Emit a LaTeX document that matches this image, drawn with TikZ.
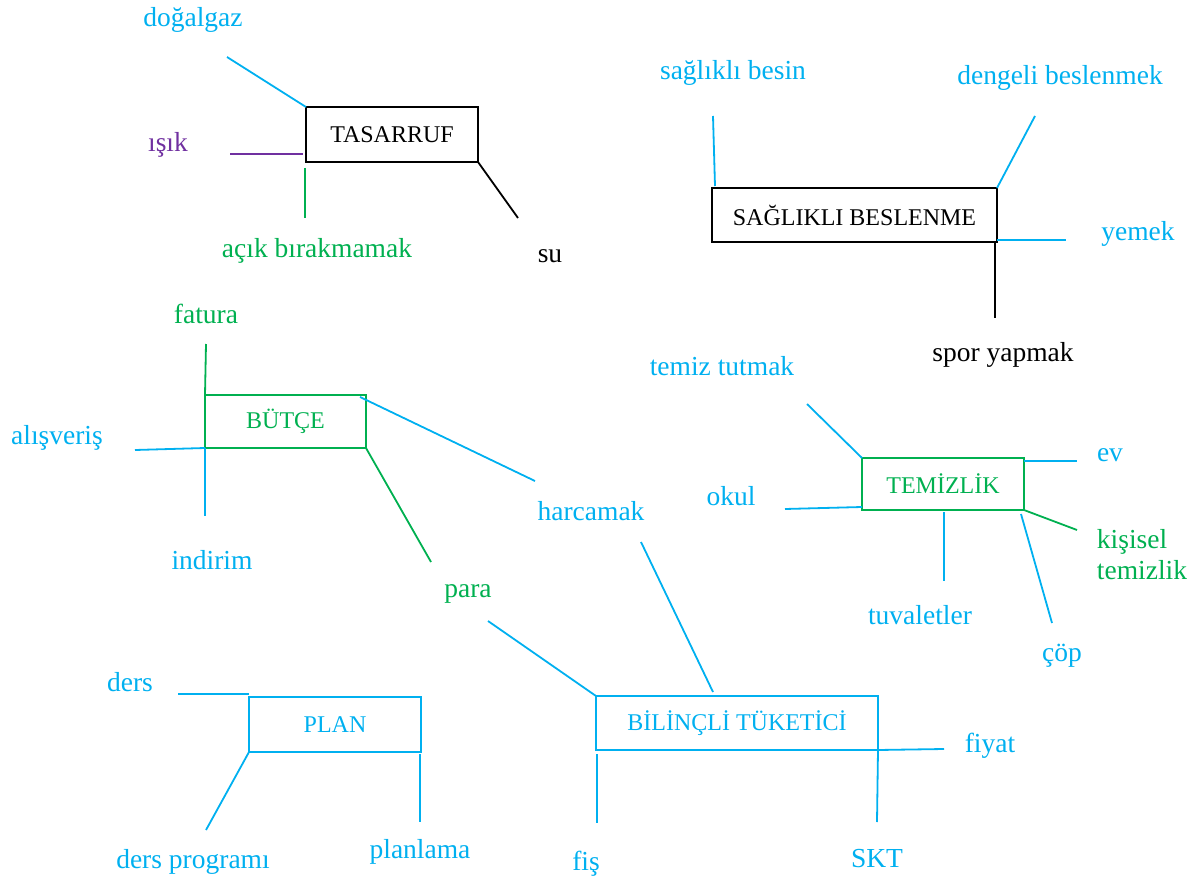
\documentclass[tikz,border=0pt]{standalone}
\usepackage{fontspec}
\setmainfont{Liberation Serif}
\definecolor{cy}{HTML}{00B0F0}
\definecolor{gr}{HTML}{00B050}
\definecolor{pu}{HTML}{7030A0}
\newcommand{\lblfont}{\fontsize{27.5}{31}\selectfont}
\newcommand{\boxfont}{\fontsize{24}{26}\selectfont}
\begin{document}
\begin{tikzpicture}[x=1pt,y=-1pt,
  lbl/.style={font=\lblfont, inner sep=0pt, yshift=-2pt},
  box/.style={draw, inner sep=0pt, outer sep=0pt, font=\boxfont},
  thinbox/.style={box, line width=1.9pt},
  thickbox/.style={box, line width=2.8pt},
  ln/.style={line width=1.8pt}]
\useasboundingbox (0,0) rectangle (1200,880);

% ---------- TASARRUF ----------
\node[thinbox, minimum width=172pt, minimum height=55pt] (tas) at (392,134.5) {TASARRUF};
\node[lbl, text=cy] (dogalgaz) at (193,18) {doğalgaz};
\node[lbl, text=pu] (isik) at (168,143) {ışık};
\node[lbl, text=gr] (acik) at (317,249) {açık bırakmamak};
\node[lbl] (su) at (550,254) {su};
\coordinate (dogalgazE) at (227,57);
\coordinate (isikE) at (230,154);
\coordinate (isikT) at (303,154);
\coordinate (acikT) at (305,168);
\coordinate (acikE) at (305,218);
\coordinate (suE) at (518,218);
\draw[ln, cy] (dogalgazE) -- (tas.north west);
\draw[ln, pu] (isikE) -- (isikT);
\draw[ln, gr] (acikT) -- (acikE);
\draw[ln] (tas.south east) -- (suE);

% ---------- SAĞLIKLI BESLENME ----------
\node[thinbox, minimum width=285pt, minimum height=54pt] (sag) at (854.5,215) {SAĞLIKLI BESLENME};
\node[lbl, text=cy] (besin) at (733,71) {sağlıklı besin};
\node[lbl, text=cy] (dengeli) at (1060,76) {dengeli beslenmek};
\node[lbl, text=cy] (yemek) at (1138,232) {yemek};
\node[lbl] (spor) at (1003,353) {spor yapmak};
\coordinate (besinE) at (713,116);
\coordinate (besinT) at (715,186);
\coordinate (dengeliE) at (1035,116);
\coordinate (yemekT) at (997,240);
\coordinate (yemekE) at (1066,240);
\coordinate (sporT) at (995,242);
\coordinate (sporE) at (995,318);
\draw[ln, cy] (besinE) -- (besinT);
\draw[ln, cy] (dengeliE) -- (sag.north east);
\draw[ln, cy] (yemekT) -- (yemekE);
\draw[ln] (sporT) -- (sporE);

% ---------- BÜTÇE ----------
\node[thickbox, draw=gr, text=gr, minimum width=161pt, minimum height=53pt] (but) at (285.5,421.5) {BÜTÇE};
\node[lbl, text=gr] (fatura) at (206,312) {fatura};
\node[lbl, text=cy] (alis) at (57,436) {alışveriş};
\node[lbl, text=cy] (indirim) at (212,558) {indirim};
\node[lbl, text=cy] (harcamak) at (591,509) {harcamak};
\node[lbl, text=gr] (para) at (468,592) {para};
\coordinate (faturaE) at (206,344);
\coordinate (alisE) at (135,450);
\coordinate (indirimE) at (205,516);
\coordinate (butNE) at (360,397);
\coordinate (harcamakW) at (535,481);
\coordinate (paraN) at (431,562);
\draw[ln, gr] (faturaE) -- (but.north west);
\draw[ln, cy] (alisE) -- (but.south west);
\draw[ln, cy] (but.south west) -- (indirimE);
\draw[ln, cy] (butNE) -- (harcamakW);
\draw[ln, gr] (but.south east) -- (paraN);

% ---------- TEMİZLİK ----------
\node[thickbox, draw=gr, text=gr, minimum width=162pt, minimum height=52pt] (tem) at (943,484) {TEMİZLİK};
\node[lbl, text=cy] (tutmak) at (722,364) {temiz tutmak};
\node[lbl, text=cy] (ev) at (1110,453) {ev};
\node[lbl, text=cy] (okul) at (731,494) {okul};
\node[lbl, text=gr, align=left] (kisisel) at (1142,553) {kişisel\\temizlik};
\node[lbl, text=cy] (tuvalet) at (920,613) {tuvaletler};
\node[lbl, text=cy] (cop) at (1062,654) {çöp};
\coordinate (tutmakE) at (807,404);
\coordinate (evT) at (1024,461);
\coordinate (evE) at (1077,461);
\coordinate (okulE) at (785,509);
\coordinate (okulT) at (862,507);
\coordinate (kisiselE) at (1077,530);
\coordinate (tuvaletT) at (944,512);
\coordinate (tuvaletE) at (944,581);
\coordinate (copT) at (1021,514);
\coordinate (copE) at (1052,623);
\draw[ln, cy] (tutmakE) -- (tem.north west);
\draw[ln, cy] (evT) -- (evE);
\draw[ln, cy] (okulE) -- (okulT);
\draw[ln, gr] (tem.south east) -- (kisiselE);
\draw[ln, cy] (tuvaletT) -- (tuvaletE);
\draw[ln, cy] (copT) -- (copE);

% ---------- BİLİNÇLİ TÜKETİCİ ----------
\node[thickbox, draw=cy, text=cy, minimum width=282pt, minimum height=54pt] (bil) at (737,723) {BİLİNÇLİ TÜKETİCİ};
\node[lbl, text=cy] (fiyat) at (990,744) {fiyat};
\node[lbl, text=cy] (fis) at (586,862) {fiş};
\node[lbl, text=cy] (skt) at (877,857) {SKT};
\coordinate (paraS) at (488,621);
\coordinate (harcamakS) at (641,542);
\coordinate (bilN) at (713,692);
\coordinate (fiyatE) at (944,749);
\coordinate (fisT) at (597,754);
\coordinate (fisE) at (597,823);
\coordinate (sktE) at (877,822);
\draw[ln, cy] (paraS) -- (bil.north west);
\draw[ln, cy] (harcamakS) -- (bilN);
\draw[ln, cy] (bil.south east) -- (fiyatE);
\draw[ln, cy] (fisT) -- (fisE);
\draw[ln, cy] (bil.south east) -- (sktE);

% ---------- PLAN ----------
\node[thickbox, draw=cy, text=cy, minimum width=172pt, minimum height=55pt] (plan) at (335,724.5) {PLAN};
\node[lbl, text=cy] (ders) at (130,680) {ders};
\node[lbl, text=cy] (program) at (193,860) {ders programı};
\node[lbl, text=cy] (planlama) at (420,850) {planlama};
\coordinate (dersE) at (178,694);
\coordinate (dersT) at (249,694);
\coordinate (programE) at (206,830);
\coordinate (planlamaT) at (420,754);
\coordinate (planlamaE) at (420,822);
\draw[ln, cy] (dersE) -- (dersT);
\draw[ln, cy] (plan.south west) -- (programE);
\draw[ln, cy] (planlamaT) -- (planlamaE);
\end{tikzpicture}
\end{document}
